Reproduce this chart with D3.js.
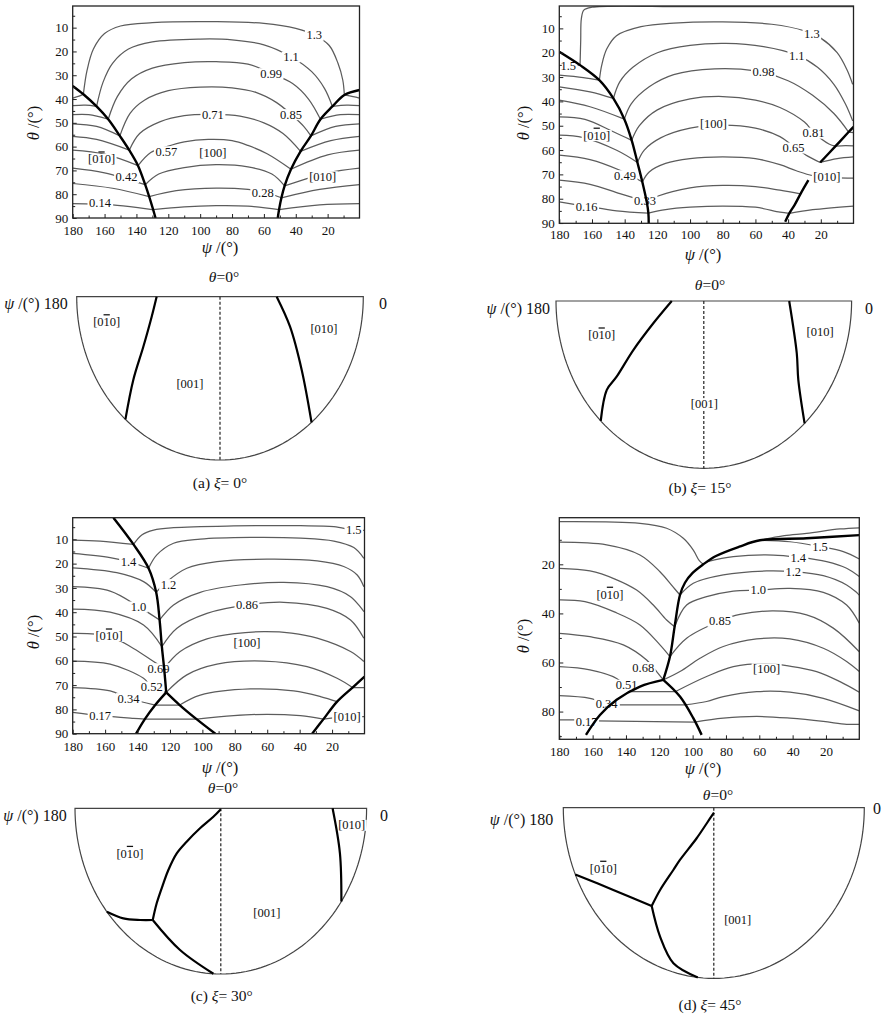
<!DOCTYPE html>
<html>
<head>
<meta charset="utf-8">
<script src="https://cdn.jsdelivr.net/npm/d3@7"></script>
<style>
  body { margin: 0; background: #fff; }
  text { font-family: "Liberation Serif", "Times New Roman", serif; fill: #111; }
</style>
</head>
<body>
<svg id="fig" width="888" height="1016"></svg>
<script>
// ---- tick values ----
const psiTicks = [180, 160, 140, 120, 100, 80, 60, 40, 20];
const psiMinor = [170, 150, 130, 110, 90, 70, 50, 30, 10];
const thetaTicks = [10, 20, 30, 40, 50, 60, 70, 80, 90];
const thetaMinor = [5, 15, 25, 35, 45, 55, 65, 75, 85];
const thetaTicksD = [20, 40, 60, 80];
const thetaMinorD = [10, 30, 50, 70, 90];
const xiValues = ['0', '15', '30', '45'];
const panelLetters = ['a', 'b', 'c', 'd'];

// ---- (a) xi = 0 : contour pieces [psi, theta] ----
const contoursA = [
  [[180,39.6],[176,38.8],[173.3,38]],
  [[173.3,38],[171,28],[167,19],[160,12.5],[150,9.3],[130,7.9],[90,7.5],[60,8.2],[40,10.3],[28.4,13.1],[19,17.5],[13.5,25],[10.5,32],[9.5,38.3]],
  [[9.5,38.3],[4,39],[0,39.6]],
  [[180,42.8],[172,42.6],[165,43.1]],
  [[165,43.1],[161,33],[155,25],[145,19],[130,16],[100,14.8],[80,15.1],[60,17.2],[43,22.2],[30,28.5],[22,35.5],[17,43.1]],
  [[17,43.1],[8,42.6],[0,42.8]],
  [[180,46.6],[170,46.6],[157.7,48.5]],
  [[157.7,48.5],[152,39],[143,31.5],[130,27],[110,24.7],[90,24.3],[70,25.3],[55.5,29.2],[42,33.5],[32,40],[24.5,48.5]],
  [[24.5,48.5],[12,46.6],[0,46.6]],
  [[180,50.4],[165,51.5],[150.4,55.5]],
  [[150.4,55.5],[144,46],[135,40.5],[120,36.5],[100,35],[80,35.3],[65,37.2],[52,41.5],[43,46.4],[35,51.5],[30.5,55.5]],
  [[30.5,55.5],[15,51.5],[0,50.4]],
  [[180,55.7],[165,57],[144.5,61.5]],
  [[144.5,61.5],[138,54.5],[125,49.5],[110,47],[92,46.5],[75,47.2],[60,50],[48,54.5],[37,62]],
  [[37,62],[18,57.5],[0,55.7]],
  [[180,61.5],[160,63.2],[139,68]],
  [[139,68],[131,62.5],[121,60],[110,58],[95,57],[80,57.5],[70,59.5],[58,63],[43,69.5]],
  [[43,69.5],[20,63.5],[0,61.5]],
  [[180,69],[160,71],[134.5,76]],
  [[134.5,76],[126,71.5],[110,68.8],[90,67.6],[70,68.5],[55,71.5],[47,76.5]],
  [[47,76.5],[20,71],[0,69]],
  [[180,75.5],[155,77.5],[132,81]],
  [[132,81],[115,78.5],[90,77.4],[70,78],[58,79.5],[49,81.5]],
  [[49,81.5],[25,78],[0,76]],
  [[180,84],[155,84.5],[129.5,86.5]],
  [[129.5,86.5],[110,85.3],[90,84.8],[70,85],[50.5,86.5]],
  [[50.5,86.5],[25,84.5],[0,84]]
];
const boundsA = [
  [[180,34.5],[173.3,38],[165,43.1],[157.7,48.5],[150.4,55.5],[144.5,61.5],[139,68],[134.5,76],[132,81],[129.5,86.5],[128,90]],
  [[0,36.2],[9.5,38.3],[17,43.1],[24.5,48.5],[30.5,55.5],[37,62],[43,69.5],[47,76.5],[49,81.5],[50.5,86.5],[51.3,90]]
];
const labelsA = [
  [28.4,13.1,'1.3'],[43,22.2,'1.1'],[55.5,29.2,'0.99'],[43,46.4,'0.85'],[92,46.5,'0.71'],
  [121.2,62,'0.57'],[92,62.7,'[100]'],[161.9,65.2,'[0-10]'],[146.2,72.8,'0.42'],
  [23.1,72.5,'[010]'],[60.7,79.2,'0.28'],[162.9,83.7,'0.14']
];
const semiA = [
  [[180,39.8],[165.6,44.3],[150.2,55.5],[139.9,71.2],[131.3,90]],
  [[0,35.6],[20.6,47],[38.2,65.3],[50.3,90]]
];
const semiLabelsA = [[169,72.5,'[0-10]'],[15,67.6,'[010]'],[111.5,51.4,'[001]']];

// ---- (b) xi = 15 ----
const contoursB = [
  [[180,25.1],[172,25.1],[167.3,25.1]],
  [[167.3,25.1],[166.9,15],[166.5,6],[165,2.5],[160,1.3],[100,1.1],[0,1.1]],
  [[180,29.2],[165.3,30.2],[155.5,31.3]],
  [[155.5,31.3],[154,25],[151,18.5],[145,13],[130,9.3],[110,7.8],[80,7.3],[50,8.3],[30,11],[20,14],[10,20],[4,27],[0.5,33]],
  [[180,34],[161.2,36.1],[146.9,38.8]],
  [[146.9,38.8],[143,32],[135,26],[120,20],[100,17],[78,16.2],[55,17.5],[34.7,21],[22,26],[12,33],[5,41],[0.5,48]],
  [[180,39.5],[161.2,42.2],[140.2,47.3]],
  [[140.2,47.3],[136,41],[125,34],[110,29],[85,26.6],[60,27.5],[40,31.5],[25,37.5],[12,45],[3,52.6]],
  [[3,52.6],[0,52.8]],
  [[180,46.4],[164.3,47.4],[146.9,52.5],[135.7,56]],
  [[135.7,56],[131,50],[120,43.5],[100,39],[80,38],[60,39.5],[45,42.5],[30,48.5],[24,53],[15,57.5],[11,58.4]],
  [[11,58.4],[5,58.2],[0,58.3]],
  [[180,53.9],[165.3,54.9],[144.9,60.1],[132.2,65.1]],
  [[132.2,65.1],[128,60],[118,55],[100,51],[80,49.8],[60,51],[45,54.5],[36.7,58.5],[28,62.5],[20.4,65.1]],
  [[20.4,65.1],[10,63.5],[0,62.8]],
  [[180,62.1],[161.2,63.9],[142.9,68.3],[129.2,73.1]],
  [[129.2,73.1],[125,69],[115,65.5],[100,63.5],[80,62.8],[60,63.5],[45,66],[35,68.5],[25,70.5],[12,71.3],[0,71.5]],
  [[180,72.4],[161.2,74.1],[142.9,77.9],[126.5,81.3]],
  [[126.5,81.3],[120,79],[100,75.5],[80,74.5],[60,75],[45,76.5],[32.4,78]],
  [[180,81.3],[163.3,83.1],[144.9,85],[125.5,85.9]],
  [[125.5,85.9],[115,84.5],[100,83.5],[80,83],[60,83.5],[45,85.5],[39.3,86]],
  [[39.3,86],[25,84.5],[0,83]]
];
const boundsB = [
  [[180,19.6],[167.3,25.1],[155.5,31.3],[146.9,38.8],[140.2,47.3],[135.7,56],[132.2,65.1],[129.2,73.1],[126.5,81.3],[125.5,85.9],[125.3,90]],
  [[0,50.5],[3,52.6],[11,58.4],[20.4,65.1]],
  [[27.6,72.4],[32.4,78],[36,82.5],[39.3,86],[41.8,89.5]]
];
const labelsB = [
  [174.5,25.1,'1.5'],[25.5,12.1,'1.3'],[34.7,21,'1.1'],[55.1,27.8,'0.98'],[157.1,53.9,'[0-10]'],
  [85.7,49.1,'[100]'],[24.5,52.9,'0.81'],[36.7,59,'0.65'],[139.8,70.4,'0.49'],
  [16.3,71,'[010]'],[127.6,80.6,'0.33'],[163.3,83.4,'0.16']
];
const semiB = [
  [[180,19.5],[158.7,33],[148.4,50.4],[142.5,66.9],[141,76],[134.2,90]],
  [[0,52],[26.4,63.2],[36.4,71.5],[47,90]]
];
const semiLabelsB = [[163.6,64.8,'[0-10]'],[13.1,72.7,'[010]'],[89.7,55,'[001]']];

// ---- (c) xi = 30 ----
const contoursC = [
  [[180,10.3],[163.1,10.7],[142.5,12.1]],
  [[142.5,12.1],[137.4,8.2],[130.1,6.2],[117.8,5.2],[80.7,4.5],[39.5,4.4],[18.9,4.8],[6.6,6.2],[0,6.3]],
  [[180,15.8],[156.9,17.5],[145.6,19.2],[133.2,21.9]],
  [[133.2,21.9],[128.1,16.4],[117.8,11.6],[101.3,9.9],[70.4,9.2],[39.5,9.5],[18.9,10.7],[6.6,13.4],[0.4,17.8]],
  [[180,21.7],[152.8,23.7],[136.3,27.4],[128.5,31.8]],
  [[128.5,31.8],[121.9,27.4],[109.6,21.9],[91,19.2],[60.1,18.2],[29.2,18.9],[12.8,21.2],[4.5,24.7],[0.4,29.5]],
  [[180,29.5],[156.9,31.3],[139.4,37.7],[126.4,43.2]],
  [[126.4,43.2],[117.8,37],[101.3,31.8],[76.6,28.8],[49.8,27.7],[23.1,29.5],[8.6,33.6],[0.4,39.8]],
  [[180,38.7],[156.9,40],[136.3,45.3],[125,54.2]],
  [[125,54.2],[115.7,46.6],[97.2,40.5],[72.5,37],[49.8,35.9],[23.1,38.4],[8.6,43.2],[0.4,50.7]],
  [[180,48.7],[157.6,49.8],[142.5,54.9],[130.1,60.3],[123.6,63.1]],
  [[123.6,63.1],[113.7,56.2],[97.2,51],[80,48.8],[62,48],[45,48.6],[29.2,50.7],[8.6,56.2],[0.4,60.3]],
  [[180,60.1],[156.9,61.4],[136.3,67.2],[131.2,70.6],[122.3,73]],
  [[122.3,73],[109.6,65.8],[91,61.4],[62.2,60.1],[35.4,62.4],[16.9,67.2],[7.4,71]],
  [[7.4,71],[0,71]],
  [[180,71],[156.9,72.4],[145.6,75.4],[129.1,78.2]],
  [[129.1,78.2],[114,78.2]],
  [[114,78.2],[101.3,74.1],[70.4,71.6],[43.7,72.4],[27.2,74.7],[16.9,76.8]],
  [[180,81.2],[163.1,82.6],[142.5,83.7],[135.5,84]],
  [[135.5,84],[103.6,84]],
  [[103.6,84],[80.7,82.6],[60.1,82],[39.5,82.6],[25.3,84]],
  [[25.3,84],[10.7,83],[0,83]]
];
const boundsC = [
  [[154.9,1.1],[142.5,12.1],[133.2,21.9],[128.5,31.8],[126.4,43.2],[125,54.2],[123.6,63.1],[122.3,73]],
  [[122.3,73],[129.1,78.2],[135.5,84],[140.9,90]],
  [[122.3,73],[114,78.2],[103.6,84],[92,90]],
  [[0,66.5],[7.4,71],[16.9,76.8],[25.3,84],[32.3,90]]
];
const labelsC = [
  [6.6,6.2,'1.5'],[145.6,19.2,'1.4'],[120.9,28.5,'1.2'],[139.4,37.7,'1.0'],[72.5,37,'0.86'],
  [157.6,49.8,'[0-10]'],[72.5,52.4,'[100]'],[127.1,63.1,'0.69'],[131.2,70.6,'0.52'],
  [145.6,75.4,'0.34'],[163.1,82.6,'0.17'],[10.7,83,'[010]']
];
const semiC = [
  [[90,0.5],[135,6.5],[139.8,16.8],[139.3,27.8],[138,36.6],[134,46.6],[131,54],[127.5,65],[124.7,73.8]],
  [[124.7,73.8],[129.4,78.5],[135.2,84.8],[141.4,90]],
  [[124.7,73.8],[108.1,81],[92.9,90]],
  [[0,69],[18.4,77.5],[34.2,90]]
];
const semiLabelsC = [[156.4,61.2,'[0-10]'],[6.4,81.3,'[010]'],[63.4,63.4,'[001]']];

// ---- (d) xi = 45 ----
const contoursD = [
  [[180,2.6],[131.6,3.3],[115.6,5.3],[105.6,9.4],[99.6,14.2],[96,18.5],[93.6,20]],
  [[59.6,10.2],[45,8.3],[31.6,7.4],[11.6,5.6],[0,5.1]],
  [[59.6,10.2],[41.6,10.8],[23.6,12.8],[9.6,14.8],[0,17.8]],
  [[91.6,19],[75.6,16.9],[51.6,16.2],[36.6,17.1],[19.6,18.9],[7.6,21.6],[0,25]],
  [[180,11],[151.6,12.1],[131.6,16.2],[119.6,23],[112,29],[107.6,32.5]],
  [[107.6,32.5],[99.6,27.7],[81.6,24.3],[55.6,22.7],[39.6,23],[21.6,24.6],[7.6,28.4],[0,32.5]],
  [[180,21.6],[161.6,22.7],[146.6,26],[133.6,30.5],[123.6,36.6],[115.6,42.7],[110.8,45.4]],
  [[110.8,45.4],[103.6,36.6],[91.6,33.2],[75.6,30.9],[60.6,30.5],[41.6,29.8],[21.6,31.4],[7.6,36.6],[0,44]],
  [[180,34.5],[164.6,35.2],[146.6,39.5],[131.6,44.7],[119.6,52.8],[113.6,57.6]],
  [[113.6,57.6],[103.6,50.1],[83.6,43.1],[71.6,40.4],[51.6,39],[31.6,40.6],[15.6,46],[0,55.6]],
  [[180,48.1],[161.6,49.5],[141.6,52.8],[127.6,59],[121.6,63.7],[117.6,67.1]],
  [[117.6,67.1],[107.6,63.7],[95.6,58.3],[81.6,53.5],[61.6,50.4],[41.6,50.4],[21.6,54.2],[7.6,59.6],[0,63.7]],
  [[180,61.7],[161.6,63],[145.6,66.5],[137,71.9]],
  [[137,71.9],[110.5,71.9]],
  [[110.5,71.9],[91.6,65.7],[75.6,61.7],[55.6,60.5],[41.6,61.5],[25.6,63.7],[11.6,67.8],[0,72.1]],
  [[180,73.5],[161.6,74.6],[151.6,76.9],[149,77.3]],
  [[149,77.3],[104.5,77.3]],
  [[104.5,77.3],[91.6,75.9],[81.6,73.9],[61.6,71.9],[41.6,72.1],[21.6,74.6],[0,79.7]],
  [[180,83.4],[167.6,83.4],[158.1,83.8]],
  [[158.1,83.8],[98.8,84.3]],
  [[98.8,84.3],[81.6,82.7],[61.6,82],[41.6,82.7],[21.6,84],[7.6,85.2],[0,85.2]]
];
const boundsD = [
  [[0,8.1],[31.6,9.4],[59.6,10.2],[72,12.8],[86,16.6],[93.6,20],[100,23.5],[104.6,27.5],[107.6,32.5],[110.8,45.4],[113.6,57.6],[117.6,67.1]],
  [[117.6,67.1],[131.6,69.8],[145.6,75.2],[155.6,81.4],[164,89.5]],
  [[117.6,67.1],[107.6,73.9],[99.6,82.7],[94.6,89.5]]
];
const labelsD = [
  [23.6,12.8,'1.5'],[36.6,17.1,'1.4'],[39.6,23,'1.2'],[60.6,30.5,'1.0'],[149.6,32.2,'[0-10]'],
  [83.6,43.1,'0.85'],[129.6,61.9,'0.68'],[55.6,62.4,'[100]'],[139.6,69.1,'0.51'],
  [151.6,76.9,'0.34'],[163.6,84.3,'0.17']
];
const semiD = [
  [[88,2.6],[117,9.2],[122.5,19.1],[126.3,34.2],[126.4,40.8],[126.5,54],[125.6,63.8]],
  [[125.6,63.8],[144.2,74.1],[157,90]],
  [[125.6,63.8],[115.3,75.2],[106.4,85.5],[96.1,90]]
];
const semiLabelsD = [[154.2,73.4,'[0-10]'],[76.4,60.9,'[001]']];

// ---- layout (pixels) ----
const panels = [
  { contours: contoursA, bounds: boundsA, labels: labelsA, semi: semiA, semiLabels: semiLabelsA,
    box: [72.7, 359.5, 6, 218], theta: [0.9, 90], yT: thetaTicks, yM: thetaMinor, padX: 7.3,
    psiTitle: [220, 253], thetaTitle: [33, 123],
    geo: [220, 296.7, 143.3, 163.3], t0: [224, 282], psiLab: [67.7, 309], zeroLab: [379, 309], cap: [220, 488] },
  { contours: contoursB, bounds: boundsB, labels: labelsB, semi: semiB, semiLabels: semiLabelsB,
    box: [559.3, 853.5, 6, 223.3], theta: [0.8, 90.1], yT: thetaTicks, yM: thetaMinor, padX: 6.7,
    psiTitle: [703, 260], thetaTitle: [523, 123],
    geo: [703.8, 301, 147.8, 167.3], t0: [710, 290], psiLab: [550, 314], zeroLab: [865, 314], cap: [700, 493] },
  { contours: contoursC, bounds: boundsC, labels: labelsC, semi: semiC, semiLabels: semiLabelsC,
    box: [72.7, 364.5, 517.7, 733.7], theta: [1.1, 90], yT: thetaTicks, yM: thetaMinor, padX: 7.8,
    psiTitle: [220, 773], thetaTitle: [33, 632],
    geo: [220.8, 808.3, 145.8, 165.7], t0: [223, 793], psiLab: [66.7, 821], zeroLab: [380, 821], cap: [221.7, 1001] },
  { contours: contoursD, bounds: boundsD, labels: labelsD, semi: semiD, semiLabels: semiLabelsD,
    box: [559.3, 859.3, 517.7, 739.3], theta: [1, 91.3], yT: thetaTicksD, yM: thetaMinorD, padX: 7.2,
    psiTitle: [703, 774], thetaTitle: [523, 636],
    geo: [713.8, 807.7, 150.5, 170.7], t0: [718, 800], psiLab: [553.3, 825], zeroLab: [873, 814], cap: [710, 1010] }
];

const svg = d3.select('#fig');
const defs = svg.append('defs');
const FS = 12.5;
const TICK_FS = 13;

// text made of [string, italic] parts
function richText(g, x, y, parts, size, anchor) {
  const t = g.append('text').attr('x', x).attr('y', y)
    .attr('font-size', size).attr('text-anchor', anchor || 'middle');
  parts.forEach(([s, it]) => {
    t.append('tspan').text(s).attr('font-style', it ? 'italic' : 'normal');
  });
  return t;
}

// contour / zone labels on a white patch; "[0-10]" stands for [0 1-bar 0]
function zoneText(g, x, y, str) {
  const wrap = g.append('g');
  const bg = wrap.append('rect').attr('fill', '#fff');
  const t = wrap.append('text').attr('x', x).attr('y', y).attr('dy', '0.35em')
    .attr('font-size', FS).attr('text-anchor', 'middle');
  if (str === '[0-10]') {
    t.append('tspan').text('[0');
    t.append('tspan').text('1').style('text-decoration', 'overline');
    t.append('tspan').text('0]');
  } else {
    t.text(str);
  }
  const bb = t.node().getBBox();
  bg.attr('x', bb.x - 1.5).attr('y', bb.y + 1.5).attr('width', bb.width + 3).attr('height', bb.height - 3);
}

function drawContourPanel(p, i) {
  const [l, r, t, b] = p.box;
  const x = d3.scaleLinear().domain([180, 0]).range([l, r]);
  const y = d3.scaleLinear().domain(p.theta).range([t, b]);
  const clipId = 'clip' + i;
  defs.append('clipPath').attr('id', clipId).append('rect')
    .attr('x', l).attr('y', t).attr('width', r - l).attr('height', b - t);

  const g = svg.append('g');
  const inner = g.append('g').attr('clip-path', `url(#${clipId})`);
  const line = d3.line().x(d => x(d[0])).y(d => y(d[1])).curve(d3.curveCatmullRom.alpha(0.5));

  inner.selectAll('path.iso').data(p.contours).join('path').attr('class', 'iso')
    .attr('d', line).attr('fill', 'none').attr('stroke', '#5c5c5c').attr('stroke-width', 1.25);

  p.labels.forEach(d => zoneText(inner, x(d[0]), y(d[1]), d[2]));

  inner.selectAll('path.bnd').data(p.bounds).join('path').attr('class', 'bnd')
    .attr('d', line).attr('fill', 'none').attr('stroke', '#000').attr('stroke-width', 2.4)
    .attr('stroke-linejoin', 'round');

  // axes: inward ticks
  const ax = g.append('g').attr('transform', `translate(0,${b})`)
    .call(d3.axisBottom(x).tickValues(psiTicks).tickSize(-4).tickSizeOuter(0).tickPadding(p.padX));
  const axm = g.append('g').attr('transform', `translate(0,${b})`)
    .call(d3.axisBottom(x).tickValues(psiMinor).tickSize(-2.5).tickSizeOuter(0).tickFormat(''));
  const ay = g.append('g').attr('transform', `translate(${l},0)`)
    .call(d3.axisLeft(y).tickValues(p.yT).tickSize(-4).tickSizeOuter(0).tickPadding(4.5));
  const aym = g.append('g').attr('transform', `translate(${l},0)`)
    .call(d3.axisLeft(y).tickValues(p.yM).tickSize(-2.5).tickSizeOuter(0).tickFormat(''));
  [ax, axm, ay, aym].forEach(a => {
    a.select('.domain').remove();
    a.selectAll('line').attr('stroke', '#222').attr('stroke-width', 1);
    a.selectAll('text').attr('font-size', TICK_FS)
      .attr('font-family', '"Liberation Serif", serif').attr('fill', '#111');
  });

  g.append('rect').attr('x', l).attr('y', t).attr('width', r - l).attr('height', b - t)
    .attr('fill', 'none').attr('stroke', '#222').attr('stroke-width', 1.3);

  richText(g, p.psiTitle[0], p.psiTitle[1], [['ψ', true], [' /(°)', false]], 16.5);
  richText(g, 0, 0, [['θ', true], [' /(°)', false]], 16.5)
    .attr('transform', `translate(${p.thetaTitle[0]},${p.thetaTitle[1]}) rotate(-90)`)
    .attr('dy', '0.35em');
}

function drawSemi(p, i) {
  const [cx, cy, rx, ry] = p.geo;
  const ang = d3.scaleLinear().domain([0, 180]).range([0, Math.PI]);
  const rad = d3.scaleLinear().domain([0, 90]).range([0, 1]);
  const px = d => cx + rx * rad(d[1]) * Math.cos(ang(d[0]));
  const py = d => cy + ry * rad(d[1]) * Math.sin(ang(d[0]));
  const g = svg.append('g');

  const rim = d3.range(0, 181, 2).map(v => [v, 90]);
  g.append('path').attr('d', d3.line().x(px).y(py)(rim) + 'Z')
    .attr('fill', 'none').attr('stroke', '#444').attr('stroke-width', 1.2);

  g.append('path').attr('d', d3.line().x(px).y(py)([[90, 0], [90, 90]]))
    .attr('fill', 'none').attr('stroke', '#222').attr('stroke-width', 1.2)
    .attr('stroke-dasharray', '3,2');

  p.semiLabels.forEach(d => zoneText(g, px(d), py(d), d[2]));

  const curve = d3.line().x(px).y(py).curve(d3.curveCatmullRom.alpha(0.5));
  g.selectAll('path.sb').data(p.semi).join('path').attr('class', 'sb')
    .attr('d', curve).attr('fill', 'none').attr('stroke', '#000').attr('stroke-width', 2.2)
    .attr('stroke-linejoin', 'round');

  richText(g, p.t0[0], p.t0[1], [['θ', true], ['=0°', false]], 15.5);
  richText(g, p.psiLab[0], p.psiLab[1], [['ψ', true], [' /(°) 180', false]], 16, 'end');
  richText(g, p.zeroLab[0], p.zeroLab[1], [['0', false]], 16, 'start');
  richText(g, p.cap[0], p.cap[1],
    [[`(${panelLetters[i]}) `, false], ['ξ', true], [`= ${xiValues[i]}°`, false]], 15.5);
}

panels.forEach((p, i) => { drawContourPanel(p, i); drawSemi(p, i); });
</script>
</body>
</html>
